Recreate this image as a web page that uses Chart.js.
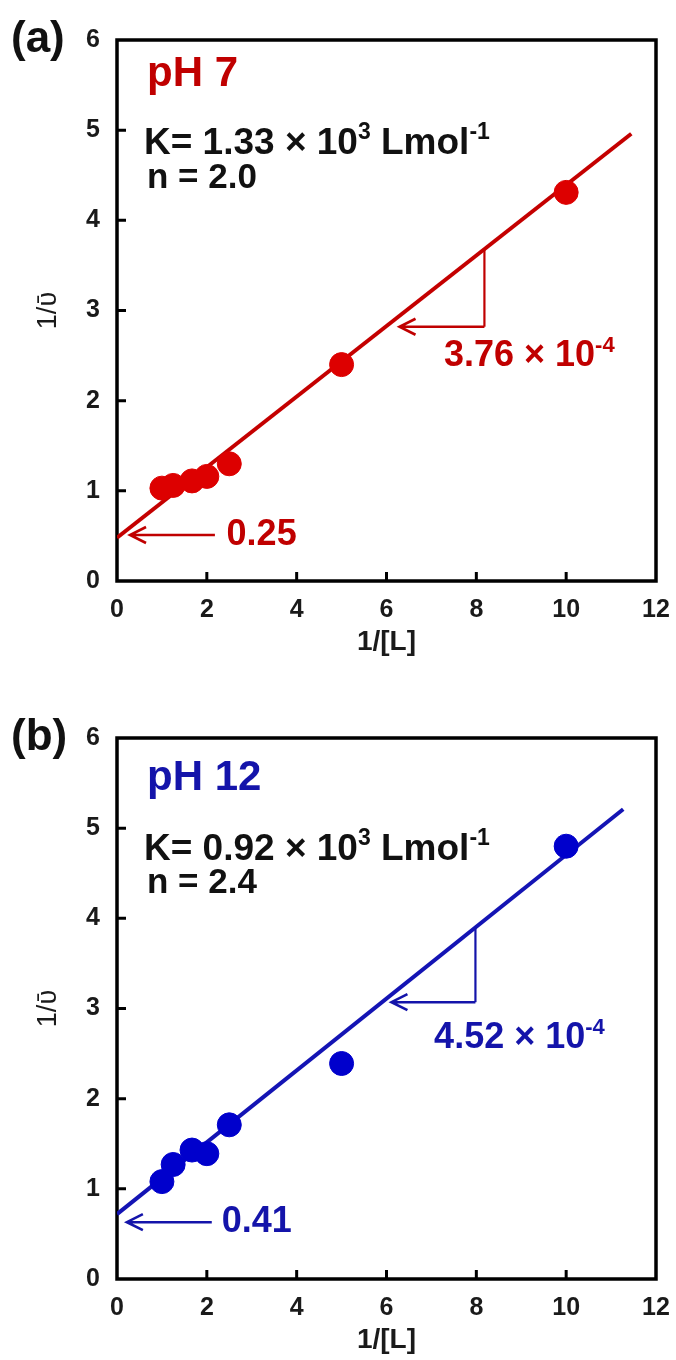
<!DOCTYPE html>
<html>
<head>
<meta charset="utf-8">
<script src="https://cdn.jsdelivr.net/npm/chart.js"></script>
<style>
  html, body { margin: 0; padding: 0; background: #fff; overflow: hidden; }
  .panel { position: relative; width: 676px; height: 680px; }
  canvas { display: block; }
</style>
</head>
<body>
<div class="panel"><canvas id="chartA" width="676" height="680"></canvas></div>
<div class="panel"><canvas id="chartB" width="676" height="680"></canvas></div>
<script>
// panel (a), pH 7
const xA = [1, 1.25, 1.67, 2, 2.5, 5, 10];
const yA = [1.03, 1.06, 1.11, 1.16, 1.3, 2.4, 4.31];
const fitXA = [0, 11.45];
const fitYA = [0.48, 4.96];

// panel (b), pH 12
const xB = [1, 1.25, 1.67, 2, 2.5, 5, 10];
const yB = [1.08, 1.27, 1.43, 1.39, 1.71, 2.39, 4.8];
const fitXB = [0, 11.27];
const fitYB = [0.72, 5.21];

const xRange = [0, 12];
const yRange = [0, 6];

const FONT = '"Liberation Sans", Arial, sans-serif';

function toPoints(xs, ys) {
  return xs.map((v, i) => ({x: v, y: ys[i]}));
}

// text with superscript pieces
function drawRuns(ctx, x, y, runs, size, color, align) {
  ctx.save();
  ctx.fillStyle = color;
  ctx.textBaseline = 'middle';
  ctx.textAlign = 'left';
  let total = 0;
  const widths = runs.map(r => {
    ctx.font = 'bold ' + (r.sup ? Math.round(size * 0.62) : size) + 'px ' + FONT;
    const w = ctx.measureText(r.t).width;
    total += w;
    return w;
  });
  let cx = align === 'center' ? x - total / 2 : x;
  runs.forEach((r, i) => {
    ctx.font = 'bold ' + (r.sup ? Math.round(size * 0.62) : size) + 'px ' + FONT;
    ctx.fillText(r.t, cx, r.sup ? y - size * 0.3 : y);
    cx += widths[i];
  });
  ctx.restore();
}

function arrowLeft(ctx, xHead, xTail, y) {
  ctx.beginPath();
  ctx.moveTo(xTail, y);
  ctx.lineTo(xHead, y);
  ctx.moveTo(xHead + 16, y - 8);
  ctx.lineTo(xHead, y);
  ctx.lineTo(xHead + 16, y + 8);
  ctx.stroke();
}

const decor = {
  id: 'decor',
  beforeDatasetsDraw(chart) {
    const {ctx, chartArea: a, scales: {x, y}} = chart;
    ctx.save();
    ctx.strokeStyle = '#000';
    ctx.lineWidth = 3.5;
    ctx.strokeRect(a.left, a.top, a.right - a.left, a.bottom - a.top);
    ctx.lineWidth = 3;
    ctx.beginPath();
    x.ticks.forEach(t => {
      if (t.value <= x.min || t.value >= x.max) return;
      const px = x.getPixelForValue(t.value);
      ctx.moveTo(px, a.bottom);
      ctx.lineTo(px, a.bottom - 9);
    });
    y.ticks.forEach(t => {
      if (t.value <= y.min || t.value >= y.max) return;
      const py = y.getPixelForValue(t.value);
      ctx.moveTo(a.left, py);
      ctx.lineTo(a.left + 9, py);
    });
    ctx.stroke();
    ctx.restore();
  },
  afterDatasetsDraw(chart, args, o) {
    const {ctx, chartArea: a, scales: {x, y}} = chart;
    // panel tag and text block
    drawRuns(ctx, a.left - 106, a.top, [{t: o.tag}], 44, '#111', 'left');
    drawRuns(ctx, a.left + 30, a.top + o.rows[0], [{t: o.title}], 42, o.color, 'left');
    drawRuns(ctx, a.left + 27, a.top + o.rows[1],
      [{t: 'K= ' + o.k + ' \u00d7 10'}, {t: '3', sup: true}, {t: ' Lmol'}, {t: '-1', sup: true}], 37, '#111', 'left');
    drawRuns(ctx, a.left + 30, a.top + o.rows[2], [{t: 'n = ' + o.n}], 35, '#111', 'left');

    ctx.save();
    ctx.strokeStyle = o.line;
    ctx.lineWidth = 2.2;
    // slope triangle
    const tx = x.getPixelForValue(o.tri[0]);
    const tTop = y.getPixelForValue(o.tri[1]);
    const tBot = y.getPixelForValue(o.tri[2]);
    const tHead = x.getPixelForValue(o.tri[3]);
    ctx.beginPath();
    ctx.moveTo(tx, tTop);
    ctx.lineTo(tx, tBot);
    ctx.stroke();
    ctx.lineWidth = 2.6;
    arrowLeft(ctx, tHead, tx, tBot);
    // intercept arrow
    const iy = y.getPixelForValue(o.icpt[0]);
    arrowLeft(ctx, x.getPixelForValue(o.icpt[1]), x.getPixelForValue(o.icpt[2]), iy);
    ctx.restore();

    drawRuns(ctx, x.getPixelForValue(o.slopeAt[0]), y.getPixelForValue(o.slopeAt[1]),
      [{t: o.slope + ' \u00d7 10'}, {t: '-4', sup: true}], 36, o.color, 'center');
    drawRuns(ctx, x.getPixelForValue(o.icpt[3]), iy, [{t: o.icptText}], 36, o.color, 'left');
  }
};

function makePanel(id, xs, ys, fx, fy, dotColor, lineColor, top, notes, titleBottom) {
  const tickFont = {family: FONT, size: 25, weight: 'bold'};
  return new Chart(document.getElementById(id), {
    type: 'scatter',
    data: {
      datasets: [
        {
          data: toPoints(xs, ys),
          backgroundColor: dotColor,
          borderColor: dotColor,
          pointRadius: 12,
          pointBorderWidth: 1,
          order: 0
        },
        {
          data: toPoints(fx, fy),
          showLine: true,
          borderColor: lineColor,
          borderWidth: 4,
          pointRadius: 0,
          order: 1
        }
      ]
    },
    options: {
      responsive: false,
      animation: false,
      devicePixelRatio: 1,
      layout: {padding: {left: 0, right: 20, top: top, bottom: 0}},
      plugins: {
        legend: {display: false},
        tooltip: {enabled: false},
        decor: notes
      },
      scales: {
        x: {
          type: 'linear', min: xRange[0], max: xRange[1],
          grid: {display: false, drawTicks: false},
          border: {display: false},
          // padding 0 keeps the edge label from widening the right margin; lineHeight pushes labels down
          ticks: {stepSize: 2, padding: 0, color: '#1a1a1a',
                  font: {family: FONT, size: 25, weight: 'bold', lineHeight: 2.3}},
          title: {display: true, text: '1/[L]', color: '#1a1a1a',
                  font: {family: FONT, size: 28, weight: 'bold'}, padding: {top: 0, bottom: titleBottom}},
          afterFit: s => { s.height = 680 - top - 541; }
        },
        y: {
          type: 'linear', min: yRange[0], max: yRange[1],
          grid: {display: false, drawTicks: false},
          border: {display: false},
          ticks: {stepSize: 1, padding: 17, color: '#1a1a1a', font: tickFont},
          title: {display: true, text: '1/\u1fe1', color: '#1a1a1a',
                  font: {family: FONT, size: 27}, padding: {top: 32, bottom: 0}},
          afterFit: s => { s.width = 117; }
        }
      }
    },
    plugins: [decor]
  });
}

makePanel('chartA', xA, yA, fitXA, fitYA, '#dd0000', '#c40000', 40, {
  tag: '(a)', title: 'pH 7', k: '1.33', n: '2.0', color: '#c00000', line: '#c00000',
  rows: [34, 104, 138],
  tri: [8.18, 3.68, 2.82, 6.29],
  slope: '3.76', slopeAt: [9.18, 2.49],
  icpt: [0.51, 0.29, 2.18, 2.44], icptText: '0.25'
}, 21);

makePanel('chartB', xB, yB, fitXB, fitYB, '#0000cc', '#1414b4', 58, {
  tag: '(b)', title: 'pH 12', k: '0.92', n: '2.4', color: '#1414aa', line: '#1414aa',
  rows: [40, 112, 145],
  tri: [7.98, 3.9, 3.07, 6.11],
  slope: '4.52', slopeAt: [8.96, 2.67],
  icpt: [0.63, 0.22, 2.11, 2.33], icptText: '0.41'
}, 3);
</script>
</body>
</html>
